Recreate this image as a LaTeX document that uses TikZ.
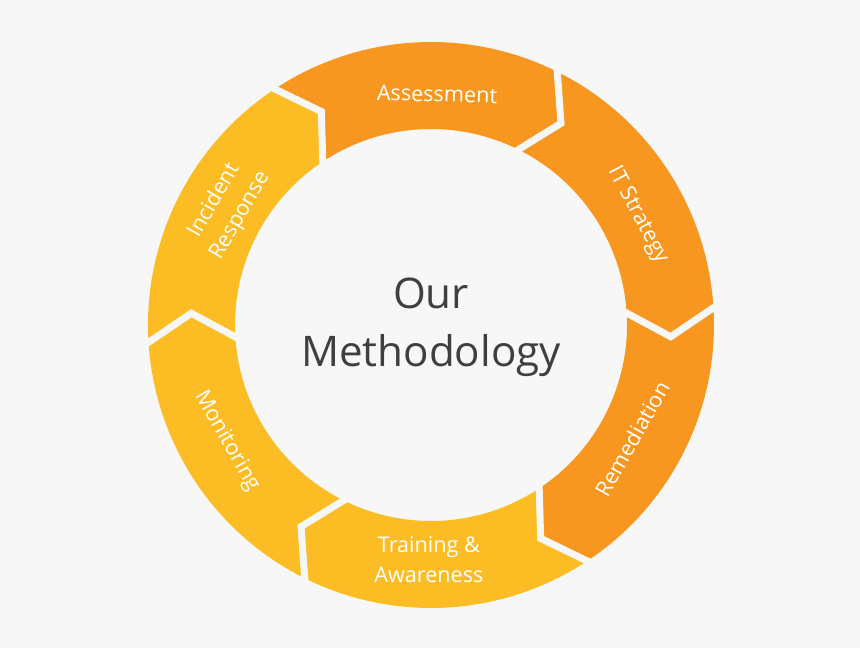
\documentclass[tikz,border=0pt]{standalone}
\usepackage{fontspec}
\setmainfont{Open Sans}
\definecolor{bgcol}{HTML}{F7F7F7}
\definecolor{orangecol}{HTML}{F7971F}
\definecolor{yellowcol}{HTML}{FCBC24}
\definecolor{titlecol}{HTML}{3F3F3F}
% ring radii (1 unit = 1 px of the reference)
\newcommand{\ringout}{283}
\newcommand{\ringin}{196}
\newcommand{\ringmid}{240}
% one chevron segment: #1 start joint, #2 end joint, #3 colour
\newcommand{\ringseg}[3]{%
  \fill[#3] ({#1+3.5}:\ringout) arc[start angle={#1+3.5}, end angle={#2+3.5}, radius=\ringout]
    -- ({#2-2.8}:\ringmid) -- ({#2+3.5}:\ringin)
    arc[start angle={#2+3.5}, end angle={#1+3.5}, radius=\ringin]
    -- ({#1-2.8}:\ringmid) -- cycle;}
\tikzset{
  gapline/.style={draw=bgcol, line width=0.14cm, shorten <=-8pt, shorten >=-8pt},
  seglabel/.style={text=white, font=\fontsize{12.3}{17}\selectfont, align=center, inner sep=0pt},
  titletext/.style={text=titlecol, font=\fontsize{24}{33}\selectfont, align=center, inner sep=0pt}
}
\begin{document}
\begin{tikzpicture}[x=0.02cm, y=0.02cm]
  % background
  \fill[bgcol] (-431,-323) rectangle (429,325);
  \useasboundingbox (-431,-323) rectangle (429,325);
  % segments, clockwise from the top
  \ringseg{120}{60}{orangecol}
  \ringseg{60}{0}{orangecol}
  \ringseg{0}{-60}{orangecol}
  \ringseg{-60}{-120}{yellowcol}
  \ringseg{-120}{-180}{yellowcol}
  \ringseg{180}{120}{yellowcol}
  % white gaps between segments
  \foreach \j in {120,60,0,-60,-120,180}{
    \draw[gapline] ({\j+3.5}:\ringout) -- ({\j-2.8}:\ringmid) -- ({\j+3.5}:\ringin);
  }
  % labels
  \node[seglabel, rotate=-1.5] (assess) at (88.5:231) {Assessment};
  \node[seglabel, rotate=-62] (strategy) at (28:234) {IT Strategy};
  \node[seglabel, rotate=60.5] (remedy) at (-29.5:231) {Remediation};
  \node[seglabel] (training) at (-90.5:235) {Training \&\\Awareness};
  \node[seglabel, rotate=-60.4] (monitor) at (209.6:235) {Monitoring};
  \node[seglabel, rotate=60] (incident) at (150.2:235) {Incident\\Response};
  % centre title
  \node[titletext] (title) at (0,-2) {Our\\Methodology};
\end{tikzpicture}
\end{document}
